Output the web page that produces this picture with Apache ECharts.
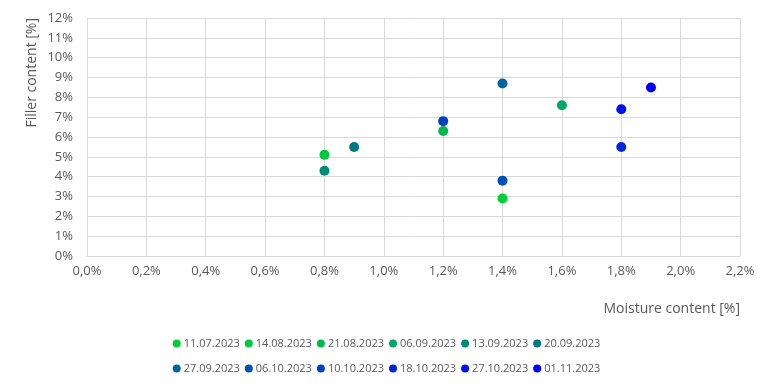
<!DOCTYPE html>
<html><head><meta charset="utf-8">
<script src="https://cdn.jsdelivr.net/npm/echarts@6/dist/echarts.min.js"></script>
<style>html,body{margin:0;padding:0;background:#fff}#c{width:773px;height:388px}</style>
</head><body><div id="c"></div>
<script>
const dates = ['11.07.2023','14.08.2023','21.08.2023','06.09.2023','13.09.2023','20.09.2023','27.09.2023','06.10.2023','10.10.2023','18.10.2023','27.10.2023','01.11.2023'];
const moisture = [1.4, 0.8, 1.2, 1.6, 0.8, 0.9, 1.4, 1.4, 1.2, 1.8, 1.8, 1.9];
const filler = [2.9, 5.1, 6.3, 7.6, 4.3, 5.5, 8.7, 3.8, 6.8, 5.5, 7.4, 8.5];
const colors = ['#00d034','#00c83c','#00b84c','#00a864','#008c74','#007884','#0064a0','#0050b4','#0040c4','#0024dc','#0010ec','#0000ff'];
const xTicks = {min:0, max:2.2, interval:0.2};
const yTicks = {min:0, max:12, interval:1};

const font = 'Open Sans, Liberation Sans, sans-serif';
const series = dates.map((d,i)=>({
  name:d, type:'scatter', symbol:'circle', symbolSize:10,
  itemStyle:{color:colors[i], opacity:1},
  data:[[moisture[i], filler[i]]]
}));
const chart = echarts.init(document.getElementById('c'));
chart.setOption({
  animation:false,
  grid:{left:87, right:33, top:18, bottom:132},
  xAxis:{type:'value', min:xTicks.min, max:xTicks.max, interval:xTicks.interval,
    name:'Moisture content [%]', nameLocation:'end', nameGap:0,
    nameTextStyle:{color:'#595959', fontSize:14, fontFamily:font, align:'right', verticalAlign:'top', padding:[46,0,0,0]},
    axisLine:{show:true, lineStyle:{color:'#d9d9d9'}}, axisTick:{show:false},
    axisLabel:{color:'#595959', fontSize:13, fontFamily:font, margin:9,
      formatter:v=>v.toFixed(1).replace('.',',')+'%'},
    splitLine:{show:true, lineStyle:{color:'#d9d9d9'}}},
  yAxis:{type:'value', min:yTicks.min, max:yTicks.max, interval:yTicks.interval,
    name:'Filler content [%]', nameLocation:'end', nameRotate:90, nameGap:0,
    nameTextStyle:{color:'#595959', fontSize:14, fontFamily:font, align:'right', verticalAlign:'bottom', padding:[0,0,48,0]},
    axisLine:{show:true, lineStyle:{color:'#d9d9d9'}}, axisTick:{show:false},
    axisLabel:{color:'#595959', fontSize:13, fontFamily:font, margin:14, formatter:v=>v+'%'},
    splitLine:{show:true, lineStyle:{color:'#d9d9d9'}}},
  legend:[
    {data:dates.slice(0,6), top:333, left:'center', icon:'circle', itemWidth:8, itemHeight:8, itemGap:5,
     textStyle:{color:'#595959', fontSize:11, fontFamily:font, padding:[0,0,0,-2]}},
    {data:dates.slice(6), top:358, left:'center', icon:'circle', itemWidth:8, itemHeight:8, itemGap:5,
     textStyle:{color:'#595959', fontSize:11, fontFamily:font, padding:[0,0,0,-2]}}
  ],
  series
});
</script></body></html>
